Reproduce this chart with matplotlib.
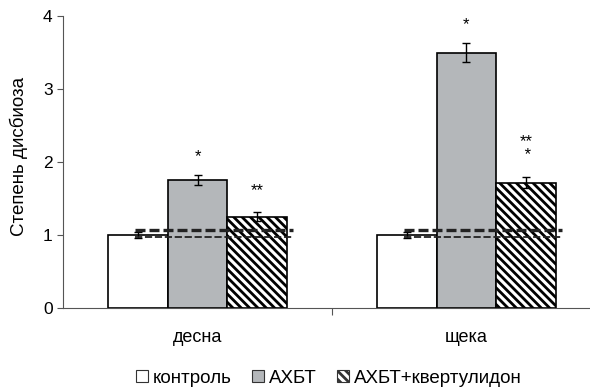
import numpy as np
import matplotlib.pyplot as plt

plt.rcParams['font.family'] = ['Liberation Sans', 'DejaVu Sans']
plt.rcParams['hatch.linewidth'] = 2.0

categories = ["десна", "щека"]
series = ["контроль", "АХБТ", "АХБТ+квертулидон"]
control = [1.0, 1.0]
control_err = [0.04, 0.04]
ahbt = [1.75, 3.5]
ahbt_err = [0.07, 0.13]
combo = [1.25, 1.72]
combo_err = [0.06, 0.07]
norm_upper = 1.07
norm_lower = 0.97
ahbt_marks = ["*", "*"]
combo_marks = ["**", "**\n *"]

fig = plt.figure(figsize=(5.9, 3.91), dpi=100)
ax = fig.add_axes([0.107, 0.212, 0.893, 0.747])

x = np.arange(len(categories))
w = 0.222
ekw = dict(elinewidth=1, capthick=1)

ax.bar(x - w, control, w, color="white", edgecolor="black", linewidth=1.2,
       yerr=control_err, capsize=3, error_kw=ekw, label=series[0], zorder=2)
ax.bar(x, ahbt, w, color="#b4b7ba", edgecolor="black", linewidth=1.2,
       yerr=ahbt_err, capsize=3, error_kw=ekw, label=series[1], zorder=2)
ax.bar(x + w, combo, w, color="white", edgecolor="black", linewidth=1.2, hatch="\\\\\\\\",
       yerr=combo_err, capsize=3, error_kw=ekw, label=series[2], zorder=2)

# dashed norm lines
for xi in x:
    ax.plot([xi - w - 0.01, xi + 1.6 * w], [norm_upper, norm_upper], color="#222222",
            linestyle=(0, (3, 1.2)), linewidth=2.4, zorder=3)
    ax.plot([xi - w - 0.01, xi + 1.6 * w], [norm_lower, norm_lower], color="#222222",
            linestyle=(0, (4, 1.5)), linewidth=1.3, zorder=3)

for i in range(len(categories)):
    ax.text(x[i], ahbt[i] + ahbt_err[i] + 0.15, ahbt_marks[i], ha="center", va="bottom", fontsize=12)
    ax.text(x[i] + w, combo[i] + combo_err[i] + 0.2, combo_marks[i], ha="center", va="bottom",
            fontsize=12, linespacing=0.9)

ax.set_xlim(-0.5, 1.46)
ax.set_ylim(0, 4)
ax.set_yticks([0, 1, 2, 3, 4])
ax.set_xticks([0.5])
ax.set_xticklabels([""])
ax.tick_params(axis="x", length=5, color="#555555")
ax.tick_params(axis="y", labelsize=12.5, length=4, color="#555555")
for xi, c in zip(x, categories):
    ax.text(xi, -0.4, c, ha="center", va="center", fontsize=13)
ax.set_ylabel("Степень дисбиоза", fontsize=13.5)
ax.yaxis.set_label_coords(-0.066, 0.52)
ax.spines["top"].set_visible(False)
ax.spines["right"].set_visible(False)
ax.spines["left"].set_color("#555555")
ax.spines["bottom"].set_color("#555555")

leg = fig.legend(*ax.get_legend_handles_labels(), loc="center", bbox_to_anchor=(0.557, 0.033), ncol=3,
                 frameon=False, fontsize=13.5, handlelength=0.65, handleheight=0.65, handletextpad=0.25,
                 columnspacing=1.1, borderaxespad=0)
for h in leg.legend_handles:
    h.set_linewidth(0.8)
    h.set_edgecolor("#333333")

fig.savefig("out.png", dpi=100)
